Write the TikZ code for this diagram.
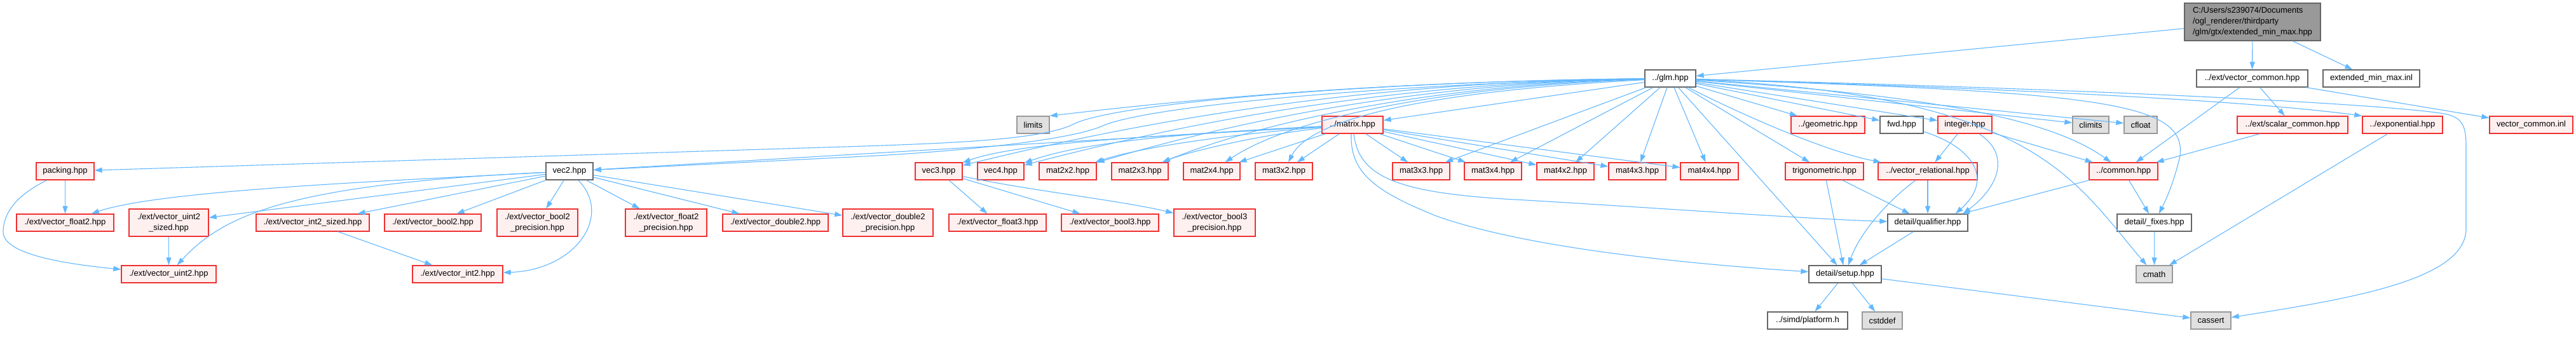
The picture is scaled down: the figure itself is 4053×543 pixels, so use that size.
\documentclass[tikz,border=0pt]{standalone}
\usepackage{fontspec}
\setmainfont{Liberation Sans}
\usetikzlibrary{arrows.meta}
\definecolor{edgec}{HTML}{63B8FF}
\definecolor{redline}{HTML}{F03030}
\definecolor{redfill}{HTML}{FFF0F0}
\definecolor{greyfill}{HTML}{E0E0E0}
\definecolor{greyline}{HTML}{999999}
\definecolor{darkline}{HTML}{666666}
\definecolor{topfill}{HTML}{999999}
\begin{document}
\begin{tikzpicture}[x=1pt,y=-1pt,
 nbase/.style={rectangle, inner sep=0pt, line width=1.3pt, font=\fontsize{13}{17}\selectfont, minimum height=27pt},
 rn/.style={nbase, draw=redline, fill=redfill},
 gn/.style={nbase, draw=greyline, fill=greyfill},
 wn/.style={nbase, draw=darkline, fill=white},
 tn/.style={nbase, draw=darkline, fill=topfill, align=left, minimum height=59pt},
 tl/.style={minimum height=43pt, align=center},
 edge/.style={draw=edgec, line width=1.1pt, -{Triangle[length=12pt,width=8pt]}},
]
\useasboundingbox (0,0) rectangle (4053,543);
\fill[white] (0,0) rectangle (4053,543);

% ---- nodes ----
\node[tn, minimum width=214pt] (top) at (3544,34.5) {C:/Users/s239074/Documents\\/ogl\_renderer/thirdparty\\/glm/gtx/extended\_min\_max.hpp};
\node[wn, minimum width=80pt] (glm) at (2628,123.5) {../glm.hpp};
\node[wn, minimum width=175pt] (vcommon) at (3543.5,123.5) {../ext/vector\_common.hpp};
\node[wn, minimum width=152pt] (emminl) at (3731,123.5) {extended\_min\_max.inl};

\node[gn, minimum width=51pt] (limits) at (1625.5,196.5) {limits};
\node[rn, minimum width=96pt] (matrix) at (2128,196.5) {../matrix.hpp};
\node[rn, minimum width=116pt] (geometric) at (2876,196.5) {../geometric.hpp};
\node[wn, minimum width=68pt] (fwd) at (2992,196.5) {fwd.hpp};
\node[rn, minimum width=85pt] (integer) at (3091.5,196.5) {integer.hpp};
\node[gn, minimum width=57pt] (climits) at (3289.5,196.5) {climits};
\node[gn, minimum width=52pt] (cfloat) at (3368,196.5) {cfloat};
\node[rn, minimum width=174pt] (scommon) at (3607,196.5) {../ext/scalar\_common.hpp};
\node[rn, minimum width=126pt] (expo) at (3780,196.5) {../exponential.hpp};
\node[rn, minimum width=131pt] (vcinl) at (3982.5,196.5) {vector\_common.inl};

\node[rn, minimum width=91pt] (packing) at (102.5,269.5) {packing.hpp};
\node[wn, minimum width=74pt] (vec2) at (896,269.5) {vec2.hpp};
\node[rn, minimum width=74pt] (vec3) at (1477,269.5) {vec3.hpp};
\node[rn, minimum width=73pt] (vec4) at (1574.5,269.5) {vec4.hpp};
\node[rn, minimum width=90pt] (mat2x2) at (1680,269.5) {mat2x2.hpp};
\node[rn, minimum width=89pt] (mat2x3) at (1793.5,269.5) {mat2x3.hpp};
\node[rn, minimum width=89pt] (mat2x4) at (1906.5,269.5) {mat2x4.hpp};
\node[rn, minimum width=90pt] (mat3x2) at (2020,269.5) {mat3x2.hpp};
\node[rn, minimum width=90pt] (mat3x3) at (2236,269.5) {mat3x3.hpp};
\node[rn, minimum width=90pt] (mat3x4) at (2349,269.5) {mat3x4.hpp};
\node[rn, minimum width=90pt] (mat4x2) at (2463,269.5) {mat4x2.hpp};
\node[rn, minimum width=90pt] (mat4x3) at (2576,269.5) {mat4x3.hpp};
\node[rn, minimum width=91pt] (mat4x4) at (2689.5,269.5) {mat4x4.hpp};
\node[rn, minimum width=123pt] (trig) at (2870.5,269.5) {trigonometric.hpp};
\node[rn, minimum width=156pt] (vrel) at (3033,269.5) {../vector\_relational.hpp};
\node[rn, minimum width=108pt] (common) at (3341,269.5) {../common.hpp};

\node[rn, minimum width=153pt] (float2) at (102.5,350.5) {./ext/vector\_float2.hpp};
\node[rn, tl, minimum width=125pt] (uint2s) at (265.5,350.5) {./ext/vector\_uint2\\\_sized.hpp};
\node[rn, minimum width=178pt] (int2s) at (492,350.5) {./ext/vector\_int2\_sized.hpp};
\node[rn, minimum width=152pt] (bool2) at (681,350.5) {./ext/vector\_bool2.hpp};
\node[rn, tl, minimum width=127pt] (bool2p) at (845.5,350.5) {./ext/vector\_bool2\\\_precision.hpp};
\node[rn, tl, minimum width=128pt] (float2p) at (1048,350.5) {./ext/vector\_float2\\\_precision.hpp};
\node[rn, minimum width=166pt] (double2) at (1220,350.5) {./ext/vector\_double2.hpp};
\node[rn, tl, minimum width=142pt] (double2p) at (1397,350.5) {./ext/vector\_double2\\\_precision.hpp};
\node[rn, minimum width=153pt] (float3) at (1569.5,350.5) {./ext/vector\_float3.hpp};
\node[rn, minimum width=153pt] (bool3) at (1746.5,350.5) {./ext/vector\_bool3.hpp};
\node[rn, tl, minimum width=128pt] (bool3p) at (1911,350.5) {./ext/vector\_bool3\\\_precision.hpp};
\node[wn, minimum width=126pt] (qualifier) at (3033,350.5) {detail/qualifier.hpp};
\node[wn, minimum width=117pt] (fixes) at (3389.5,350.5) {detail/\_fixes.hpp};

\node[rn, minimum width=149pt] (uint2) at (265.5,431.5) {./ext/vector\_uint2.hpp};
\node[rn, minimum width=142pt] (int2) at (720,431.5) {./ext/vector\_int2.hpp};
\node[wn, minimum width=114pt] (setup) at (2903,431.5) {detail/setup.hpp};
\node[gn, minimum width=57pt] (cmath) at (3389.5,431.5) {cmath};

\node[wn, minimum width=126pt] (platform) at (2844,504.5) {../simd/platform.h};
\node[gn, minimum width=63pt] (cstddef) at (2961.5,504.5) {cstddef};
\node[gn, minimum width=63pt] (cassert) at (3478.5,504.5) {cassert};

% ---- edges: top ----
\draw[edge] (top) -- (glm);
\draw[edge] (top) -- (vcommon);
\draw[edge] (top) -- (emminl);

% ---- edges: glm ----
\draw[edge] (glm) .. controls (2100,128) and (1760,170) .. (limits.north east);
\draw[edge] (glm) .. controls (2200,127) and (1760,160) .. (1690,195) .. controls (1640,220) and (1500,225) .. (1360,230) -- (packing);
\draw[edge] (glm) .. controls (2220,130) and (1810,165) .. (1735,198) .. controls (1690,218) and (1550,235) .. (1380,245) -- (vec2);
\draw[edge] (glm) .. controls (2150,128) and (1800,190) .. (vec3);
\draw[edge] (glm) .. controls (2180,130) and (1860,195) .. (vec4);
\draw[edge] (glm) .. controls (2220,131) and (1930,195) .. (mat2x2);
\draw[edge] (glm) .. controls (2260,133) and (1990,190) .. (mat2x3);
\draw[edge] (glm) .. controls (2300,135) and (2040,180) .. (mat2x4);
\draw[edge] (glm) .. controls (2350,138) and (2070,170) .. (mat3x2);
\draw[edge] (glm) -- (matrix);
\draw[edge] (glm) -- (mat3x3);
\draw[edge] (glm) -- (mat3x4);
\draw[edge] (glm) -- (mat4x2);
\draw[edge] (glm) -- (mat4x3);
\draw[edge] (glm) -- (mat4x4);
\draw[edge] (glm) -- (geometric);
\draw[edge] (glm) -- (fwd);
\draw[edge] (glm) -- (integer);
\draw[edge] (glm) -- (climits);
\draw[edge] (glm) -- (cfloat);
\draw[edge] (glm) -- (trig);
\draw[edge] (glm) .. controls (2760,190) and (2880,240) .. (vrel);
\draw[edge] (glm) .. controls (3050,150) and (3230,190) .. (common);
\draw[edge] (glm) .. controls (3200,150) and (3260,280) .. (cmath);
\draw[edge] (glm) .. controls (3300,145) and (3440,160) .. (3430,245) .. controls (3420,290) and (3405,320) .. (fixes);
\draw[edge] (glm) .. controls (3200,140) and (3550,160) .. (expo.north west);
\draw[edge] (glm) .. controls (3300,140) and (3780,165) .. (3850,180) .. controls (3875,186) and (3880,200) .. (3880,230) -- (3880,360) .. controls (3880,440) and (3700,470) .. (cassert);
\draw[edge] (glm) -- (setup);

% ---- edges: vector_common ----
\draw[edge] (vcommon) -- (scommon);
\draw[edge] (vcommon) -- (common);
\draw[edge] (vcommon) -- (vcinl);
\draw[edge] (scommon) -- (common);
\draw[edge] (expo) -- (cmath);

% ---- edges: matrix ----
\draw[edge] (matrix) -- (vec2);
\draw[edge] (matrix) .. controls (1800,215) and (1600,225) .. (vec3);
\draw[edge] (matrix) .. controls (1850,210) and (1700,225) .. (vec4);
\draw[edge] (matrix) .. controls (1950,210) and (1800,230) .. (mat2x2);
\draw[edge] (matrix) .. controls (2000,210) and (1880,235) .. (mat2x3);
\draw[edge] (matrix) -- (mat2x4);
\draw[edge] (matrix) -- (mat3x2);
\draw[edge] (matrix) -- (mat3x3);
\draw[edge] (matrix) -- (mat3x4);
\draw[edge] (matrix) -- (mat4x2);
\draw[edge] (matrix) -- (mat4x3);
\draw[edge] (matrix) -- (mat4x4);
\draw[edge] ([xshift=2pt]matrix.south) .. controls (2138,280) and (2200,305) .. (2400,315) .. controls (2650,330) and (2850,345) .. (qualifier);
\draw[edge] ([xshift=-2pt]matrix.south) .. controls (2124,270) and (2160,300) .. (2260,340) .. controls (2400,390) and (2650,415) .. (setup);

% ---- edges: vec2 / packing ----
\draw[edge] (vec2) .. controls (600,285) and (250,300) .. (float2);
\draw[edge] (vec2) -- (uint2s);
\draw[edge] (vec2) .. controls (450,290) and (350,340) .. (uint2);
\draw[edge] (vec2) -- (int2s);
\draw[edge] (vec2) -- (bool2);
\draw[edge] (vec2) -- (bool2p);
\draw[edge] (vec2) .. controls (965,340) and (905,425) .. (int2);
\draw[edge] (vec2) -- (float2p);
\draw[edge] (vec2) -- (double2);
\draw[edge] (vec2) -- (double2p);
\draw[edge] (packing) -- (float2);
\draw[edge] (packing) .. controls (20,310) and (5,340) .. (5,365) .. controls (5,400) and (100,415) .. (uint2);
\draw[edge] (uint2s) -- (uint2);
\draw[edge] (int2s) -- (int2);

% ---- edges: vec3 ----
\draw[edge] (vec3) -- (float3);
\draw[edge] (vec3) -- (bool3);
\draw[edge] (vec3) .. controls (1620,300) and (1760,315) .. (bool3p);

% ---- edges: right cluster ----
\draw[edge] (common) -- (qualifier);
\draw[edge] (common) -- (fixes);
\draw[edge] (fixes) -- (cmath);
\draw[edge] (integer) -- (vrel);
\draw[edge] (integer) .. controls (3160,240) and (3150,290) .. ([xshift=-8pt]qualifier.north east);
\draw[edge] (integer) -- (common);
\draw[edge] (fwd) .. controls (3100,230) and (3140,280) .. ([xshift=-20pt]qualifier.north east);
\draw[edge] (trig) -- (setup);
\draw[edge] (trig) -- (qualifier);
\draw[edge] (vrel) -- (qualifier);
\draw[edge] (vrel) .. controls (2965,320) and (2925,370) .. (setup);
\draw[edge] (qualifier) -- (setup);
\draw[edge] (setup) -- (platform);
\draw[edge] (setup) -- (cstddef);
\draw[edge] (setup) -- (cassert);
\end{tikzpicture}
\end{document}
